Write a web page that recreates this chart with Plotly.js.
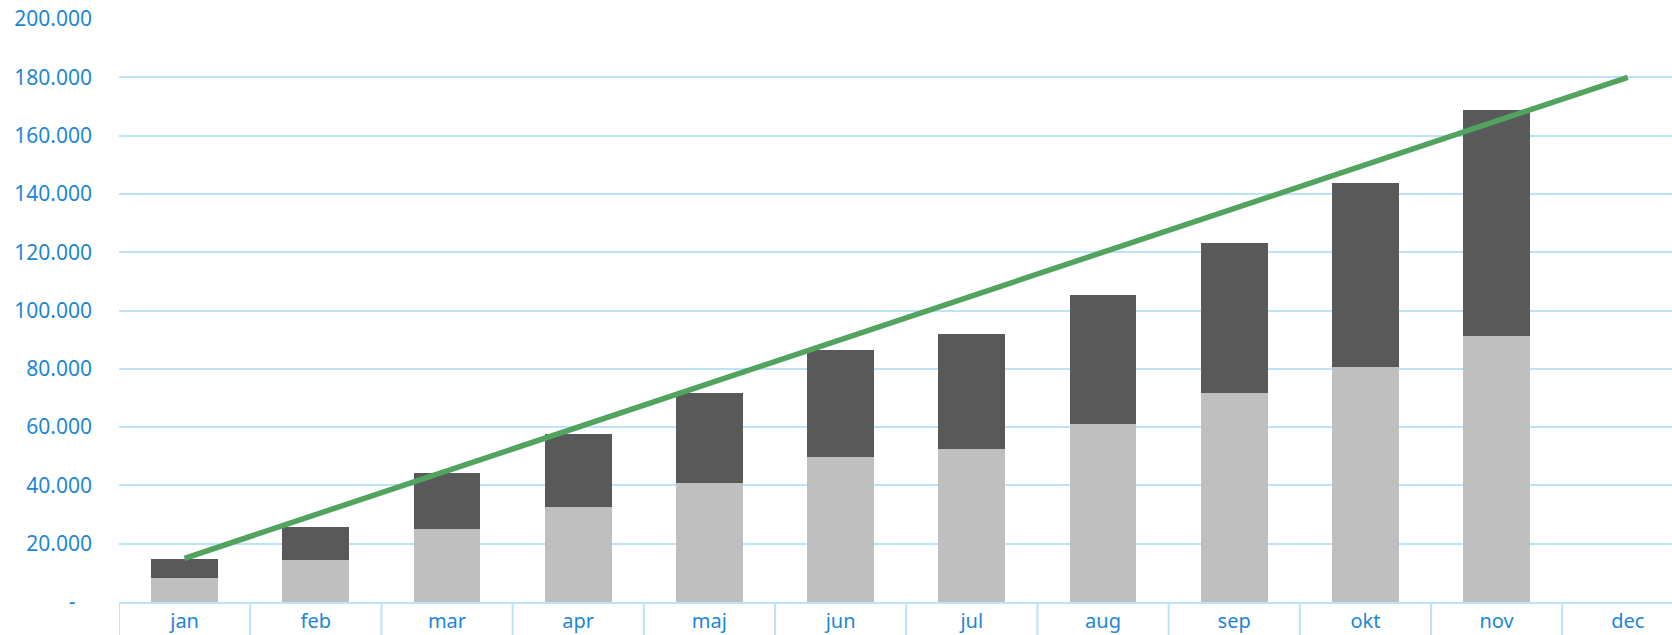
<!DOCTYPE html>
<html>
<head>
<meta charset="utf-8">
<script src="https://cdn.plot.ly/plotly-3.0.1.min.js"></script>
<style>html,body{margin:0;padding:0;background:#fff;}#chart{width:1672px;height:635px;}</style>
</head>
<body>
<div id="chart"></div>
<script>
const months = ["jan","feb","mar","apr","maj","jun","jul","aug","sep","okt","nov","dec"];
const lightValues = [8200, 14500, 25100, 32500, 40900, 49700, 52600, 61100, 71700, 80700, 91400, null];
const darkValues  = [6700, 11300, 19100, 25300, 30800, 36600, 39200, 44200, 51500, 63100, 77500, null];
const targetLine  = [15000, 30000, 45000, 60000, 75000, 90000, 105000, 120000, 135000, 150000, 165000, 180000];
const yTickVals   = [0, 20000, 40000, 60000, 80000, 100000, 120000, 140000, 160000, 180000, 200000];
const yTickText   = ["-\u00a0\u00a0\u00a0", "20.000", "40.000", "60.000", "80.000", "100.000", "120.000", "140.000", "160.000", "180.000", "200.000"];

const gridBlue = "#BCE3F8";
const labelBlue = "#1C86D6";

const traces = [
  {type: "bar", x: months, y: lightValues, marker: {color: "#BFBFBF"}, hoverinfo: "y"},
  {type: "bar", x: months, y: darkValues, marker: {color: "#595959"}, hoverinfo: "y"},
  {type: "scatter", mode: "lines", x: months, y: targetLine, line: {color: "#52A35E", width: 5.5}, hoverinfo: "y"}
];

const shapes = [];
for (let i = 0; i <= months.length; i++) {
  shapes.push({type: "line", xref: "x", yref: "paper", x0: i - 0.5, x1: i - 0.5, y0: 0, y1: -0.07,
    line: {color: gridBlue, width: 2}, layer: "below"});
}

const layout = {
  width: 1672, height: 635,
  margin: {l: 119, r: 0, t: 19, b: 33, pad: 0},
  barmode: "stack",
  bargap: 0.49,
  showlegend: false,
  paper_bgcolor: "#fff", plot_bgcolor: "#fff",
  xaxis: {
    type: "category",
    range: [-0.5, 11.337],
    showgrid: false, zeroline: false,
    showline: true, linecolor: gridBlue, linewidth: 2,
    ticks: "",
    ticklabelstandoff: 0,
    tickfont: {family: "Noto Sans", size: 20, color: labelBlue}
  },
  yaxis: {
    range: [0, 200000],
    tickvals: yTickVals, ticktext: yTickText,
    showgrid: true, gridcolor: gridBlue, gridwidth: 2,
    zeroline: false, showline: false, ticks: "",
    ticklabelstandoff: 26,
    tickfont: {family: "Noto Sans", size: 21, color: labelBlue}
  },
  shapes: shapes
};

Plotly.newPlot("chart", traces, layout, {displayModeBar: false, staticPlot: true});
</script>
</body>
</html>
